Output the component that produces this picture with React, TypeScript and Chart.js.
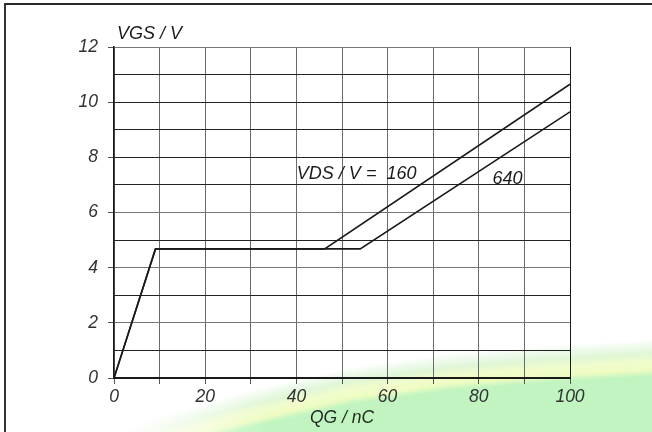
import React, { useEffect, useRef } from "react";
import { Chart, registerables } from "chart.js";

Chart.register(...registerables);

// ---- data ----
const qg160 = [0, 9.1, 46.2, 100];
const vgs160 = [0, 4.68, 4.68, 10.65];
const qg640 = [0, 9.1, 54.0, 100];
const vgs640 = [0, 4.68, 4.68, 9.65];
const seriesLabels = ["160", "640"];
const xLabelEvery = 20;
const yLabelEvery = 2;
const xTitle = "QG / nC";
const yTitle = "VGS / V";
const annotPrefix = "VDS / V =  ";

const FONT_FAMILY = '"Liberation Sans", Arial, Helvetica, sans-serif';
const FS = 17.5;
const tickFont = { family: FONT_FAMILY, size: FS, style: "italic" as const };

const bgPlugin = {
  id: "bgSwoosh",
  beforeDraw(chart: any) {
    const ctx = chart.ctx as CanvasRenderingContext2D;
    const W = chart.width;
    const H = chart.height;
    ctx.save();
    ctx.fillStyle = "#ffffff";
    ctx.fillRect(0, 0, W, H);
    const edge = [
      [60, 455],
      [100, 440],
      [150, 417],
      [250, 390],
      [350, 367],
      [450, 353],
      [550, 345],
      [670, 338],
    ];
    const stops: [number, number[]][] = [
      [0, [255, 255, 255]],
      [6, [238, 250, 236]],
      [14, [224, 247, 214]],
      [22, [240, 252, 204]],
      [30, [238, 252, 194]],
      [37, [193, 244, 193]],
    ];
    const colorAt = (d: number) => {
      for (let i = 0; i < stops.length - 1; i++) {
        const [d0, c0] = stops[i];
        const [d1, c1] = stops[i + 1];
        if (d <= d1) {
          const t = (d - d0) / (d1 - d0);
          const c = c0.map((v, k) => Math.round(v + (c1[k] - v) * t));
          return `rgb(${c[0]},${c[1]},${c[2]})`;
        }
      }
      const c = stops[stops.length - 1][1];
      return `rgb(${c[0]},${c[1]},${c[2]})`;
    };
    for (let d = 0; d <= 37; d++) {
      ctx.beginPath();
      ctx.moveTo(edge[0][0], edge[0][1] + d);
      for (let i = 1; i < edge.length; i++) ctx.lineTo(edge[i][0], edge[i][1] + d);
      ctx.lineTo(670, H + 60);
      ctx.lineTo(60, H + 60);
      ctx.closePath();
      ctx.fillStyle = colorAt(d);
      ctx.fill();
    }
    const fade = ctx.createLinearGradient(110, 0, 270, 0);
    fade.addColorStop(0, "rgba(255,255,255,1)");
    fade.addColorStop(1, "rgba(255,255,255,0)");
    ctx.fillStyle = fade;
    ctx.fillRect(0, 300, 270, H - 300);
    ctx.restore();
  },
};

const textPlugin = {
  id: "chartTexts",
  afterDatasetsDraw(chart: any) {
    const ctx = chart.ctx as CanvasRenderingContext2D;
    const xs = chart.scales.x;
    const ys = chart.scales.y;
    const area = chart.chartArea;
    ctx.save();
    ctx.font = `italic ${FS + 0.5}px ${FONT_FAMILY}`;
    ctx.fillStyle = "#1a1a1a";
    ctx.textAlign = "left";
    ctx.textBaseline = "middle";
    ctx.fillText(annotPrefix + seriesLabels[0], xs.getPixelForValue(40.1), ys.getPixelForValue(7.4));
    ctx.fillText(seriesLabels[1], xs.getPixelForValue(83.0), ys.getPixelForValue(7.22));
    ctx.textBaseline = "alphabetic";
    ctx.fillText(yTitle, area.left + 3, area.top - 8);
    ctx.restore();
  },
};

export default function App() {
  const ref = useRef<HTMLCanvasElement | null>(null);
  useEffect(() => {
    if (!ref.current) return;
    const chart = new Chart(ref.current, {
      type: "scatter",
      data: {
        datasets: [
          {
            label: seriesLabels[0],
            data: qg160.map((x, i) => ({ x, y: vgs160[i] })),
            showLine: true,
            borderColor: "#1a1a1a",
            borderWidth: 1.6,
            pointRadius: 0,
            tension: 0,
            fill: false,
          },
          {
            label: seriesLabels[1],
            data: qg640.map((x, i) => ({ x, y: vgs640[i] })),
            showLine: true,
            borderColor: "#1a1a1a",
            borderWidth: 1.6,
            pointRadius: 0,
            tension: 0,
            fill: false,
          },
        ],
      },
      options: {
        animation: false,
        responsive: false,
        layout: { padding: { top: 47, right: 82, left: 0, bottom: 0 } },
        plugins: { legend: { display: false }, tooltip: { enabled: false } },
        scales: {
          x: {
            type: "linear",
            min: 0,
            max: 100,
            ticks: {
              stepSize: 10,
              autoSkip: false,
              maxRotation: 0,
              padding: 3,
              font: tickFont,
              color: "#333",
              callback: (v: any) => (Number(v) % xLabelEvery === 0 ? String(v) : ""),
            },
            grid: {
              color: (c: any) => (c.tick && c.tick.value === 100 ? "#1a1a1a" : "#6a6a6a"),
              lineWidth: 1,
              tickLength: 6,
              tickColor: "#555",
            },
            border: { color: "#1a1a1a", width: 2 },
            title: {
              display: true,
              text: xTitle,
              font: { family: FONT_FAMILY, size: FS, style: "italic" },
              color: "#1f2a1f",
              padding: { top: 0, bottom: 3 },
            },
            afterFit: (s: any) => {
              s.height = 54;
            },
          },
          y: {
            type: "linear",
            min: 0,
            max: 12,
            ticks: {
              stepSize: 1,
              autoSkip: false,
              padding: 10,
              font: tickFont,
              color: "#333",
              callback: (v: any) => (Number(v) % yLabelEvery === 0 ? String(v) : ""),
            },
            grid: {
              color: (c: any) => {
                const v = c.tick ? c.tick.value : 0;
                return [2, 4, 6, 12].includes(v) ? "#777" : "#222";
              },
              lineWidth: 1,
              tickLength: 6,
              tickColor: (c: any) => (c.tick && c.tick.value % yLabelEvery === 0 ? "#555" : "rgba(0,0,0,0)"),
            },
            border: { color: "#1a1a1a", width: 1.5 },
            afterFit: (s: any) => {
              s.width = 114;
            },
          },
        },
      },
      plugins: [bgPlugin, textPlugin],
    });
    return () => chart.destroy();
  }, []);

  return (
    <div style={{ position: "fixed", left: 0, top: 0, width: 652, height: 432, overflow: "hidden" }}>
      <canvas ref={ref} width={652} height={432} style={{ display: "block" }} />
      <div style={{ position: "absolute", left: 4, top: 3, width: 648, height: 2, background: "#2a2a2a" }} />
      <div style={{ position: "absolute", left: 4, top: 3, width: 2, height: 429, background: "#333" }} />
    </div>
  );
}
